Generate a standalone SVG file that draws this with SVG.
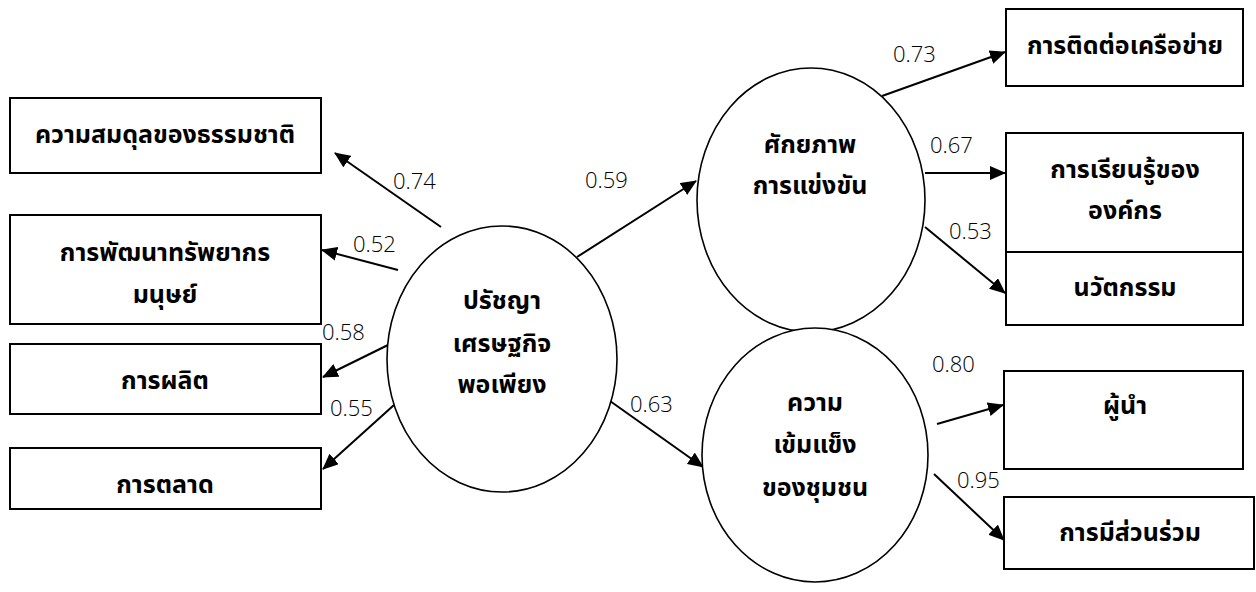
<svg xmlns="http://www.w3.org/2000/svg" width="1256" height="592" viewBox="0 0 1256 592">
<style>
.box{fill:#fff;stroke:#000;stroke-width:2}
.ell{fill:#fff;stroke:#000;stroke-width:1.6}
.t{font-family:"Noto Sans Thai","Tahoma","DejaVu Sans","Noto Sans",sans-serif;font-size:25px;font-weight:bold;text-anchor:middle;fill:#000}
.n{font-family:"Open Sans","DejaVu Sans",sans-serif;font-size:22px;font-weight:300;fill:#000}
.c{stroke:#000;stroke-width:2;fill:none;marker-end:url(#ah)}
</style>
<defs>
<marker id="ah" markerUnits="userSpaceOnUse" markerWidth="16" markerHeight="14" refX="15" refY="7" orient="auto">
<path d="M0,0 L16,7 L0,14 z" fill="#000"/>
</marker>
</defs>
<rect width="1256" height="592" fill="#fff"/>
<g id="connectors">
<line class="c" x1="441" y1="227" x2="335" y2="153"/>
<line class="c" x1="398" y1="270" x2="322" y2="250"/>
<line class="c" x1="388" y1="345" x2="323" y2="377"/>
<line class="c" x1="394" y1="405" x2="323" y2="469"/>
<line class="c" x1="577" y1="257" x2="696" y2="181"/>
<line class="c" x1="610" y1="401" x2="703" y2="467"/>
<line class="c" x1="882" y1="96" x2="1005" y2="52"/>
<line class="c" x1="925" y1="173" x2="1005" y2="173"/>
<line class="c" x1="925" y1="227" x2="1005" y2="293"/>
<line class="c" x1="937" y1="424" x2="1003" y2="405"/>
<line class="c" x1="934" y1="474" x2="1004" y2="540"/>
</g>
<g id="labels">
<text class="n" x="393" y="189">0.74</text>
<text class="n" x="353" y="252">0.52</text>
<text class="n" x="322" y="340">0.58</text>
<text class="n" x="330" y="416">0.55</text>
<text class="n" x="585" y="188">0.59</text>
<text class="n" x="630" y="412">0.63</text>
<text class="n" x="893" y="62">0.73</text>
<text class="n" x="930" y="153">0.67</text>
<text class="n" x="949" y="239">0.53</text>
<text class="n" x="932" y="372">0.80</text>
<text class="n" x="957" y="488">0.95</text>
</g>
<g id="box-balance"><rect class="box" x="10" y="98" width="311" height="75"/><text class="t" x="165" y="143">ความสมดุลของธรรมชาติ</text></g>
<g id="box-hr"><rect class="box" x="10" y="215" width="311" height="109"/><text class="t" x="165" y="261">การพัฒนาทรัพยากร</text><text class="t" x="165" y="303">มนุษย์</text></g>
<g id="box-production"><rect class="box" x="10" y="344" width="311" height="70"/><text class="t" x="165" y="389">การผลิต</text></g>
<g id="box-marketing"><rect class="box" x="10" y="448" width="311" height="61"/><text class="t" x="165" y="493">การตลาด</text></g>
<g id="ell-philosophy"><ellipse class="ell" cx="502" cy="359" rx="115" ry="133"/><text class="t" x="502" y="309">ปรัชญา</text><text class="t" x="502" y="352">เศรษฐกิจ</text><text class="t" x="502" y="393">พอเพียง</text></g>
<g id="ell-competitive"><ellipse class="ell" cx="811" cy="200" rx="114" ry="132"/><text class="t" x="810" y="153">ศักยภาพ</text><text class="t" x="810" y="194">การแข่งขัน</text></g>
<g id="ell-community"><ellipse class="ell" cx="815" cy="455" rx="113" ry="127"/><text class="t" x="815" y="411">ความ</text><text class="t" x="815" y="453">เข้มแข็ง</text><text class="t" x="815" y="496">ของชุมชน</text></g>
<g id="box-network"><rect class="box" x="1006" y="9" width="237" height="77"/><text class="t" x="1125" y="54">การติดต่อเครือข่าย</text></g>
<g id="box-learning"><rect class="box" x="1006" y="133" width="237" height="119"/><text class="t" x="1125" y="178">การเรียนรู้ของ</text><text class="t" x="1125" y="219">องค์กร</text></g>
<g id="box-innovation"><rect class="box" x="1006" y="252" width="237" height="73"/><text class="t" x="1125" y="296">นวัตกรรม</text></g>
<g id="box-leader"><rect class="box" x="1004" y="371" width="239" height="98"/><text class="t" x="1125" y="414">ผู้นำ</text></g>
<g id="box-participation"><rect class="box" x="1004" y="497" width="250" height="72"/><text class="t" x="1130" y="541">การมีส่วนร่วม</text></g>
</svg>
